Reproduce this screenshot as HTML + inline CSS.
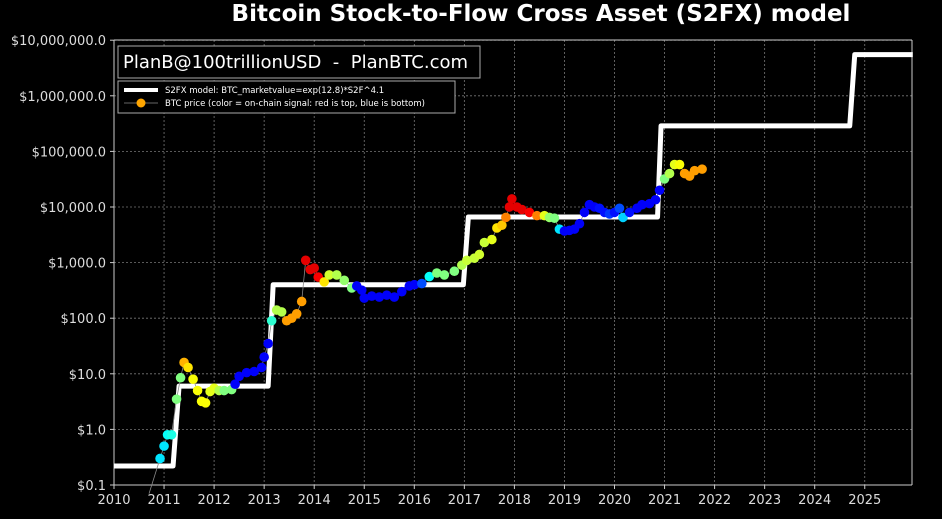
<!DOCTYPE html>
<html><head><meta charset="utf-8"><style>
html,body{margin:0;padding:0;background:#000;}
svg{display:block;font-family:"DejaVu Sans","Liberation Sans",sans-serif;}
</style></head><body>
<svg id="s" width="942" height="519" xmlns="http://www.w3.org/2000/svg">
<rect width="942" height="519" fill="#000"/>
<text x="541" y="21" fill="#fff" font-size="23" font-weight="bold" text-anchor="middle">Bitcoin Stock-to-Flow Cross Asset (S2FX) model</text>
<g id="grid"></g>
<g id="lab"></g>
<polyline id="step" fill="none" stroke="#fff" stroke-width="5" stroke-linejoin="round"/>
<polyline id="pl" fill="none" stroke="#888" stroke-width="0.8"/>
<g id="dots"></g>
<rect x="118" y="46" width="362" height="32" fill="#000" stroke="#aaa" stroke-width="1"/>
<text x="123" y="68" fill="#fff" font-size="18" style="white-space:pre">PlanB@100trillionUSD  -  PlanBTC.com</text>
<rect x="118" y="81" width="337" height="32" fill="#000" stroke="#aaa" stroke-width="1"/>
<line x1="124" y1="90" x2="158" y2="90" stroke="#fff" stroke-width="4"/>
<line x1="124" y1="103" x2="158" y2="103" stroke="#888" stroke-width="0.8"/>
<circle cx="141" cy="103" r="4.5" fill="#ffa500"/>
<text x="165" y="93" fill="#fff" font-size="8.5">S2FX model: BTC_marketvalue=exp(12.8)*S2F^4.1</text>
<text x="165" y="106" fill="#fff" font-size="8.5">BTC price (color = on-chain signal: red is top, blue is bottom)</text>
</svg>
<script>
var X=function(y){return 114+(y-2010)*50.05;};
var Y=function(p){return 485-(Math.log10(p)+1)*55.6;};
var L=114,R=912,T=40,B=485,ns="http://www.w3.org/2000/svg";
function el(p,t,a,txt){var e=document.createElementNS(ns,t);for(var k in a)e.setAttribute(k,a[k]);if(txt)e.textContent=txt;p.appendChild(e);return e;}
var g=document.getElementById('grid'),lab=document.getElementById('lab');
for(var yr=2010;yr<=2025;yr++){var x=X(yr);el(g,'line',{x1:x,x2:x,y1:T,y2:B,stroke:'#777','stroke-width':0.8,'stroke-dasharray':'2,2'});
el(lab,'line',{x1:x,x2:x,y1:B,y2:B+4,stroke:'#ccc'});el(lab,'text',{x:x,y:504,fill:'#ddd','font-size':13,'text-anchor':'middle'},''+yr);}
var yl=['$0.1','$1.0','$10.0','$100.0','$1,000.0','$10,000.0','$100,000.0','$1,000,000.0','$10,000,000.0'];
for(var i=0;i<9;i++){var y=B-i*55.6;el(g,'line',{x1:L,x2:R,y1:y,y2:y,stroke:'#777','stroke-width':0.8,'stroke-dasharray':'2,2'});
el(lab,'line',{x1:L-4,x2:L,y1:y,y2:y,stroke:'#ccc'});el(lab,'text',{x:L-8,y:y+5,fill:'#ddd','font-size':13,'text-anchor':'end'},yl[i]);}
el(lab,'line',{x1:L,x2:L,y1:T,y2:B,stroke:'#ccc'});el(lab,'line',{x1:L,x2:R,y1:B,y2:B,stroke:'#ccc'});
el(lab,'line',{x1:R,x2:R,y1:T,y2:B,stroke:'#ccc'});el(lab,'line',{x1:L,x2:R,y1:T,y2:T,stroke:'#ccc'});
var st=[[2010,0.22],[2011.18,0.22],[2011.3,6],[2013.08,6],[2013.18,400],[2016.98,400],[2017.08,6600],[2020.86,6600],[2020.93,288000],[2024.7,288000],[2024.8,5500000],[2025.96,5500000]];
document.getElementById('step').setAttribute('points',st.map(function(p){return X(p[0])+','+Y(p[1]);}).join(' '));
var pts=[[2010.7,0.07,.35],[2010.92,0.3,.35],[2011.0,0.5,.35],[2011.07,0.8,.38],[2011.15,0.8,.4],[2011.25,3.5,.5],[2011.33,8.5,.5],[2011.4,16,.7],[2011.48,13,.65],[2011.58,8,.62],[2011.67,5,.62],[2011.75,3.2,.62],[2011.83,3,.62],[2011.92,4.8,.6],[2012.0,5.5,.6],[2012.1,5,.55],[2012.2,5,.5],[2012.35,5.2,.5],[2012.42,6.5,.12],[2012.5,9,.12],[2012.65,10.5,.12],[2012.8,11,.12],[2012.95,13,.12],[2013.0,20,.12],[2013.08,35,.12],[2013.15,90,.42],[2013.25,140,.55],[2013.35,130,.55],[2013.45,90,.72],[2013.55,100,.72],[2013.65,120,.72],[2013.75,200,.72],[2013.83,1100,.9],[2013.92,750,.9],[2014.0,800,.9],[2014.08,550,.88],[2014.2,450,.65],[2014.3,600,.58],[2014.45,600,.55],[2014.6,480,.52],[2014.75,350,.5],[2014.85,380,.12],[2014.95,320,.12],[2015.0,230,.12],[2015.15,250,.12],[2015.3,240,.12],[2015.45,260,.12],[2015.6,240,.12],[2015.75,300,.12],[2015.9,380,.12],[2016.0,400,.12],[2016.15,420,.2],[2016.3,560,.38],[2016.45,650,.5],[2016.6,600,.5],[2016.8,700,.5],[2016.95,900,.55],[2017.05,1100,.57],[2017.2,1200,.57],[2017.3,1400,.58],[2017.4,2300,.57],[2017.55,2600,.6],[2017.65,4200,.65],[2017.75,4700,.68],[2017.83,6500,.75],[2017.9,10000,.9],[2017.95,14000,.9],[2018.05,10000,.9],[2018.15,9000,.9],[2018.3,8000,.88],[2018.45,7000,.75],[2018.6,7000,.6],[2018.7,6500,.52],[2018.8,6300,.5],[2018.9,4000,.35],[2019.0,3700,.12],[2019.1,3800,.12],[2019.2,4000,.12],[2019.3,5000,.12],[2019.4,8000,.12],[2019.5,11000,.12],[2019.6,10000,.12],[2019.7,9500,.14],[2019.8,8000,.14],[2019.9,7500,.18],[2020.0,8000,.14],[2020.1,9500,.2],[2020.17,6500,.33],[2020.3,8000,.14],[2020.45,9500,.12],[2020.55,11000,.12],[2020.7,11500,.12],[2020.82,13500,.12],[2020.9,20000,.12],[2021.0,32000,.5],[2021.1,40000,.55],[2021.2,58000,.6],[2021.3,58000,.62],[2021.4,40000,.72],[2021.5,36000,.72],[2021.6,45000,.72],[2021.75,48000,.72]];
function jet(v){function c(x){return Math.round(255*Math.max(0,Math.min(1,x)));}
return 'rgb('+c(1.5-Math.abs(4*v-3))+','+c(1.5-Math.abs(4*v-2))+','+c(1.5-Math.abs(4*v-1))+')';}
document.getElementById('pl').setAttribute('points',pts.map(function(p){return X(p[0])+','+Y(p[1]);}).join(' '));
var d=document.getElementById('dots');
pts.forEach(function(p,i){if(i==0)return;el(d,'circle',{cx:X(p[0]),cy:Y(p[1]),r:4.8,fill:jet(p[2])});});
</script>
</body></html>
